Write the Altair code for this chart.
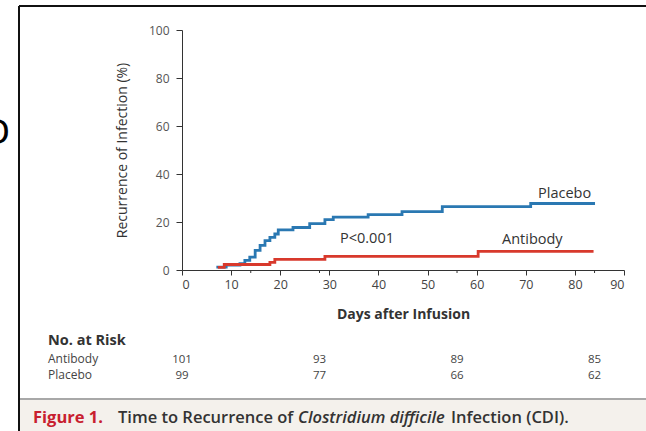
import altair as alt
import pandas as pd

# ---- data ----
placebo_days = [7.0, 9.0, 11.8, 12.8, 13.8, 14.9, 15.9, 16.9, 17.9, 18.9, 19.6, 22.6, 26.0, 29.1, 30.8, 37.9, 44.8, 53.0, 71.0, 84.1]
placebo_pct  = [1.2, 2.0, 2.6, 4.0, 5.4, 8.2, 10.3, 12.2, 13.6, 15.0, 16.7, 17.7, 19.3, 21.0, 22.0, 23.1, 24.3, 26.4, 27.7, 27.7]
antibody_days = [7.3, 8.6, 17.9, 18.9, 29.1, 60.3, 83.8]
antibody_pct  = [1.1, 2.3, 3.2, 4.4, 5.7, 7.8, 7.8]

risk_days = [0, 28, 56, 84]
risk_antibody = [101, 93, 89, 85]
risk_placebo = [99, 77, 66, 62]

x_ticks = [0, 10, 20, 30, 40, 50, 60, 70, 80, 90]
y_ticks = [0, 20, 40, 60, 80, 100]
minor_ticks = [14, 28, 56, 84]

BLUE = "#2a78b2"
RED = "#d8392c"
FONT = "Open Sans"

curves = pd.DataFrame(
    [{"day": d, "pct": p, "group": "Placebo"} for d, p in zip(placebo_days, placebo_pct)]
    + [{"day": d, "pct": p, "group": "Antibody"} for d, p in zip(antibody_days, antibody_pct)]
)

xscale = alt.Scale(domain=[0, 90], nice=False, zero=False)
yscale = alt.Scale(domain=[0, 100], nice=False)

one = pd.DataFrame({"a": [0]})

lines = alt.Chart(curves).mark_line(interpolate="step-after", strokeWidth=2.8).encode(
    x=alt.X("day:Q", scale=xscale,
            axis=alt.Axis(values=x_ticks, title="Days after Infusion", grid=False,
                          labelFont=FONT, labelFontSize=12.5, labelColor="#444",
                          domainColor="#333", tickColor="#333", tickSize=5,
                          labelPadding=3, titleFont=FONT, titleFontSize=14,
                          titleFontWeight="bold", titleColor="#333", titlePadding=17)),
    y=alt.Y("pct:Q", scale=yscale,
            axis=alt.Axis(values=y_ticks, title="Recurrence of Infection (%)", grid=False,
                          labelFont=FONT, labelFontSize=12, labelColor="#555",
                          domainColor="#333", tickColor="#333", tickSize=6,
                          labelPadding=7, titleFont=FONT, titleFontSize=14,
                          titleFontWeight="normal", titleColor="#333", titlePadding=19)),
    color=alt.Color("group:N", scale=alt.Scale(domain=["Placebo", "Antibody"], range=[BLUE, RED]), legend=None),
    detail="group:N",
)

minor = alt.Chart(pd.DataFrame({"day": minor_ticks})).mark_rule(color="#333", strokeWidth=1).encode(
    x=alt.X("day:Q", scale=xscale), y=alt.value(240), y2=alt.value(243)
)

ann = pd.DataFrame({
    "text": ["Placebo", "Antibody", "P<0.001"],
    "px": [356, 320, 158],
    "py": [168, 214, 213],
})
ann_text = alt.Chart(ann).mark_text(align="left", baseline="alphabetic", font=FONT, fontSize=14.5, color="#333").encode(
    x=alt.X("px:Q", scale=None), y=alt.Y("py:Q", scale=None), text="text:N"
)

ROW_A, ROW_P = 332.5, 348.5
risk = pd.DataFrame(
    [{"day": d, "n": str(v), "py": ROW_A} for d, v in zip(risk_days, risk_antibody)]
    + [{"day": d, "n": str(v), "py": ROW_P} for d, v in zip(risk_days, risk_placebo)]
)
risk_text = alt.Chart(risk).mark_text(align="center", baseline="alphabetic", font=FONT, fontSize=11.5, color="#444").encode(
    x=alt.X("day:Q", scale=xscale), y=alt.Y("py:Q", scale=None), text="n:N"
)

rows = pd.DataFrame({"text": ["No. at Risk", "Antibody", "Placebo"],
                     "py": [315, ROW_A, ROW_P]})
row_head = alt.Chart(rows.iloc[[0]]).mark_text(align="left", baseline="alphabetic", font=FONT, fontSize=14.5,
                                               fontWeight="bold", color="#333").encode(
    x=alt.value(-134), y=alt.Y("py:Q", scale=None), text="text:N")
row_lab = alt.Chart(rows.iloc[1:]).mark_text(align="left", baseline="alphabetic", font=FONT, fontSize=12,
                                             color="#444").encode(
    x=alt.value(-134), y=alt.Y("py:Q", scale=None), text="text:N")

# frame and caption band
band = alt.Chart(one).mark_rect(color="#f4f1ec").encode(
    x=alt.value(-163), x2=alt.value(464), y=alt.value(370), y2=alt.value(401))
sep = alt.Chart(one).mark_rule(color="#a8a8a8", strokeWidth=2).encode(
    x=alt.value(-163), x2=alt.value(464), y=alt.value(369))
left_border = alt.Chart(one).mark_rule(color="#111", strokeWidth=2).encode(
    x=alt.value(-163), y=alt.value(-24), y2=alt.value(401))
top_border = alt.Chart(one).mark_rule(color="#111", strokeWidth=2).encode(
    x=alt.value(-163), x2=alt.value(464), y=alt.value(-24))
edge_glyph = alt.Chart(one).mark_text(text="D", align="right", baseline="middle", font="DejaVu Sans",
                                      fontSize=34, color="#000").encode(x=alt.value(-172), y=alt.value(104))

caption_parts = pd.DataFrame({
    "text": ["Figure 1.", "Time to Recurrence of", "Clostridium difficile", "Infection (CDI)."],
    "px": [-149, -64, 116, 269],
})
CAP = 16.5
cap1 = alt.Chart(caption_parts.iloc[[0]]).mark_text(align="left", baseline="middle", font=FONT, fontSize=CAP,
                                                    fontWeight="bold", color="#c8202f").encode(
    x=alt.X("px:Q", scale=None), y=alt.value(388), text="text:N")
cap2 = alt.Chart(caption_parts.iloc[[1, 3]]).mark_text(align="left", baseline="middle", font=FONT, fontSize=CAP,
                                                       fontWeight=600, color="#333").encode(
    x=alt.X("px:Q", scale=None), y=alt.value(388), text="text:N")
cap3 = alt.Chart(caption_parts.iloc[[2]]).mark_text(align="left", baseline="middle", font=FONT, fontSize=CAP,
                                                    fontWeight=600, fontStyle="italic", color="#333").encode(
    x=alt.X("px:Q", scale=None), y=alt.value(388), text="text:N")

chart = alt.layer(
    band, sep, left_border, top_border, edge_glyph,
    lines, minor, ann_text, risk_text, row_head, row_lab, cap1, cap2, cap3,
).properties(
    width=442, height=240,
    autosize=alt.AutoSizeParams(type="none"),
    padding={"left": 182, "top": 30, "right": 22, "bottom": 161},
    background="white",
).configure_view(stroke=None)

chart.save("out.html", embed_options={"renderer": "svg", "actions": False})
